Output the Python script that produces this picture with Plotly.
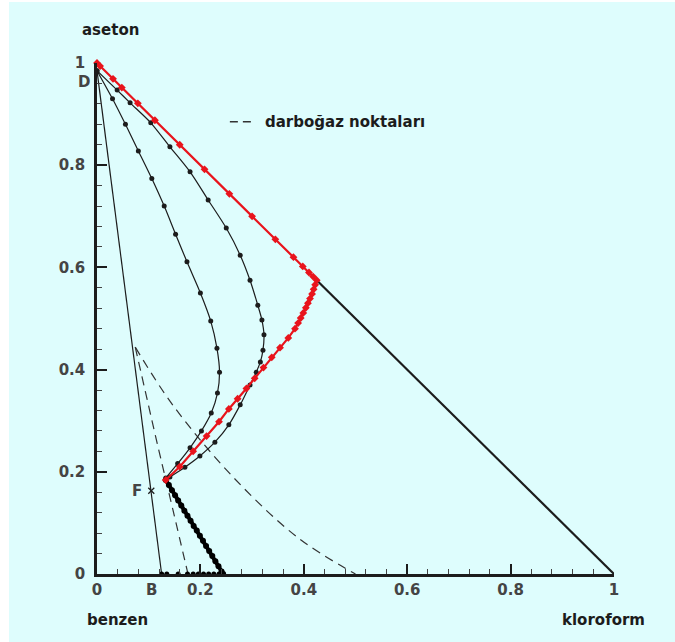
import plotly.graph_objects as go

# --- triangle diagram data (mole fractions: x = kloroform, y = aseton) ---
# rectifying profile along the D edge and down to the feed-stage corner (red)
red_x = [0.0, 0.006, 0.031, 0.048, 0.079, 0.112, 0.160, 0.208, 0.256, 0.300,
         0.345, 0.380, 0.398, 0.410, 0.418, 0.425,
         0.422, 0.419, 0.416, 0.412, 0.408, 0.404, 0.399, 0.394, 0.389, 0.383,
         0.370, 0.354, 0.338, 0.322, 0.305, 0.289, 0.272, 0.255, 0.236, 0.212,
         0.186, 0.160, 0.133]
red_y = [1.0, 0.994, 0.969, 0.952, 0.921, 0.888, 0.840, 0.792, 0.744, 0.700,
         0.655, 0.620, 0.602, 0.590, 0.582, 0.575,
         0.566, 0.557, 0.548, 0.539, 0.530, 0.521, 0.511, 0.501, 0.491, 0.480,
         0.462, 0.443, 0.424, 0.404, 0.383, 0.363, 0.343, 0.323, 0.298, 0.270,
         0.240, 0.210, 0.184]

# outer black profile
c2_x = [0.0, 0.039, 0.064, 0.104, 0.141, 0.180, 0.215, 0.250, 0.277, 0.296,
        0.311, 0.319, 0.323, 0.321, 0.316, 0.308, 0.296, 0.277, 0.255, 0.228,
        0.199, 0.170, 0.141]
c2_y = [0.985, 0.947, 0.922, 0.883, 0.836, 0.787, 0.732, 0.677, 0.624, 0.575,
        0.526, 0.497, 0.468, 0.438, 0.415, 0.395, 0.370, 0.331, 0.292, 0.258,
        0.231, 0.209, 0.190]

# inner black profile
c1_x = [0.0, 0.030, 0.055, 0.080, 0.106, 0.130, 0.152, 0.174, 0.200, 0.220,
        0.232, 0.237, 0.233, 0.221, 0.202, 0.180, 0.156, 0.133]
c1_y = [0.985, 0.930, 0.880, 0.828, 0.774, 0.720, 0.665, 0.611, 0.550, 0.495,
        0.442, 0.395, 0.354, 0.315, 0.280, 0.247, 0.216, 0.188]

# stripping section (dense stages) down to the bottom product edge
st_x = [0.133, 0.139, 0.145, 0.151, 0.157, 0.163, 0.169, 0.175, 0.181, 0.187,
        0.193, 0.199, 0.205, 0.211, 0.217, 0.223, 0.229, 0.235, 0.241, 0.244]
st_y = [0.184, 0.174, 0.164, 0.154, 0.144, 0.134, 0.124, 0.114, 0.104, 0.094,
        0.085, 0.075, 0.065, 0.055, 0.045, 0.035, 0.025, 0.015, 0.005, 0.0]

# stages sitting on the benzen-kloroform edge
bot_x = [0.125, 0.135, 0.157, 0.175, 0.186, 0.196, 0.206, 0.216, 0.226, 0.236, 0.244]
bot_y = [0.0, 0.0, 0.0, 0.0, 0.0, 0.0, 0.0, 0.0, 0.0, 0.0, 0.0]

# mass balance line B - F - D
mb_x = [0.0, 0.125]
mb_y = [0.985, 0.0]

# triangle edge from the corner to pure kloroform
edge_x = [0.425, 1.0]
edge_y = [0.575, 0.0]

# pinch point curves
p1_x = [0.074, 0.147, 0.263, 0.390, 0.500]
p1_y = [0.444, 0.330, 0.190, 0.070, 0.0]
p2_x = [0.074, 0.118, 0.147, 0.176]
p2_y = [0.444, 0.249, 0.125, 0.0]

# feed point
feed_x = [0.105]
feed_y = [0.163]

tick_vals = [0, 0.2, 0.4, 0.6, 0.8, 1]
tick_text = ["0", "0.2", "0.4", "0.6", "0.8", "1"]

BG = "#defdfd"
RED = "#e8141c"
INK = "#1c1c1c"
DASH = "9px,6px"

fig = go.Figure()

fig.add_trace(go.Scatter(x=mb_x, y=mb_y, mode="lines",
                         line=dict(color=INK, width=1.2), cliponaxis=False))
fig.add_trace(go.Scatter(x=p1_x, y=p1_y, mode="lines", line_shape="spline",
                         line=dict(color="#333333", width=1.2, dash=DASH),
                         cliponaxis=False))
fig.add_trace(go.Scatter(x=p2_x, y=p2_y, mode="lines", line_shape="spline",
                         line=dict(color="#333333", width=1.2, dash=DASH),
                         cliponaxis=False))
fig.add_trace(go.Scatter(x=edge_x, y=edge_y, mode="lines",
                         line=dict(color=INK, width=2.2), cliponaxis=False))
fig.add_trace(go.Scatter(x=c1_x, y=c1_y, mode="lines+markers", line_shape="spline",
                         line=dict(color=INK, width=1.2, smoothing=0.8),
                         marker=dict(color=INK, size=5), cliponaxis=False))
fig.add_trace(go.Scatter(x=c2_x, y=c2_y, mode="lines+markers", line_shape="spline",
                         line=dict(color=INK, width=1.2, smoothing=0.8),
                         marker=dict(color=INK, size=5), cliponaxis=False))
fig.add_trace(go.Scatter(x=st_x, y=st_y, mode="lines+markers",
                         line=dict(color="black", width=4),
                         marker=dict(color="black", size=6), cliponaxis=False))
fig.add_trace(go.Scatter(x=bot_x, y=bot_y, mode="markers",
                         marker=dict(color="black", size=5), cliponaxis=False))
fig.add_trace(go.Scatter(x=red_x, y=red_y, mode="lines+markers",
                         line=dict(color=RED, width=2.2),
                         marker=dict(color=RED, size=6, symbol="diamond"),
                         cliponaxis=False))
fig.add_trace(go.Scatter(x=feed_x, y=feed_y, mode="markers",
                         marker=dict(color=INK, size=6, symbol="x-thin",
                                     line=dict(color=INK, width=1.3)),
                         cliponaxis=False))

label_font = dict(family="DejaVu Sans", size=15, color=INK, weight="bold")
tick_font = dict(family="DejaVu Sans", size=15, color="#444444", weight="bold")

annotations = [
    dict(x=0.027, y=1.065, text="aseton", font=label_font),
    dict(x=0.039, y=-0.090, text="benzen", font=label_font),
    dict(x=0.979, y=-0.090, text="kloroform", font=label_font),
    dict(x=-0.026, y=0.963, text="D", font=tick_font),
    dict(x=0.106, y=-0.031, text="B", font=tick_font),
    dict(x=0.077, y=0.163, text="F", font=tick_font),
    dict(x=0.322, y=0.885, text="darboğaz noktaları", xanchor="left",
         font=dict(family="DejaVu Sans", size=15, color=INK, weight="bold")),
]
for a in annotations:
    a.setdefault("xanchor", "center")
    a.update(xref="paper", yref="paper", showarrow=False, yanchor="middle")

fig.update_layout(
    width=675, height=642,
    margin=dict(l=97, r=61, t=63, b=68),
    paper_bgcolor="white",
    plot_bgcolor=BG,
    showlegend=False,
    annotations=annotations,
    shapes=[
        dict(type="rect", xref="paper", yref="paper", layer="below",
             x0=(9 - 97) / 517, x1=(675 - 97) / 517,
             y0=-(642 - 574) / 511, y1=(574 - 2) / 511,
             fillcolor=BG, line=dict(width=0)),
        dict(type="line", xref="paper", yref="paper",
             x0=0.257, x1=0.306, y0=0.885, y1=0.885,
             line=dict(color="#333333", width=1.3, dash="8px,5px")),
    ],
)

axis_common = dict(
    range=[0, 1], tickvals=tick_vals, ticktext=tick_text,
    showgrid=False, zeroline=False,
    showline=True, linecolor=INK, linewidth=2.5,
    ticks="inside", ticklen=10, tickwidth=2, tickcolor=INK,
    tickfont=tick_font,
    minor=dict(dtick=0.04, ticks="inside", ticklen=5, tickwidth=1, tickcolor="#444444"),
)
fig.update_xaxes(**axis_common)
fig.update_yaxes(**axis_common, ticklabelstandoff=6)

fig.write_html("out.html")
